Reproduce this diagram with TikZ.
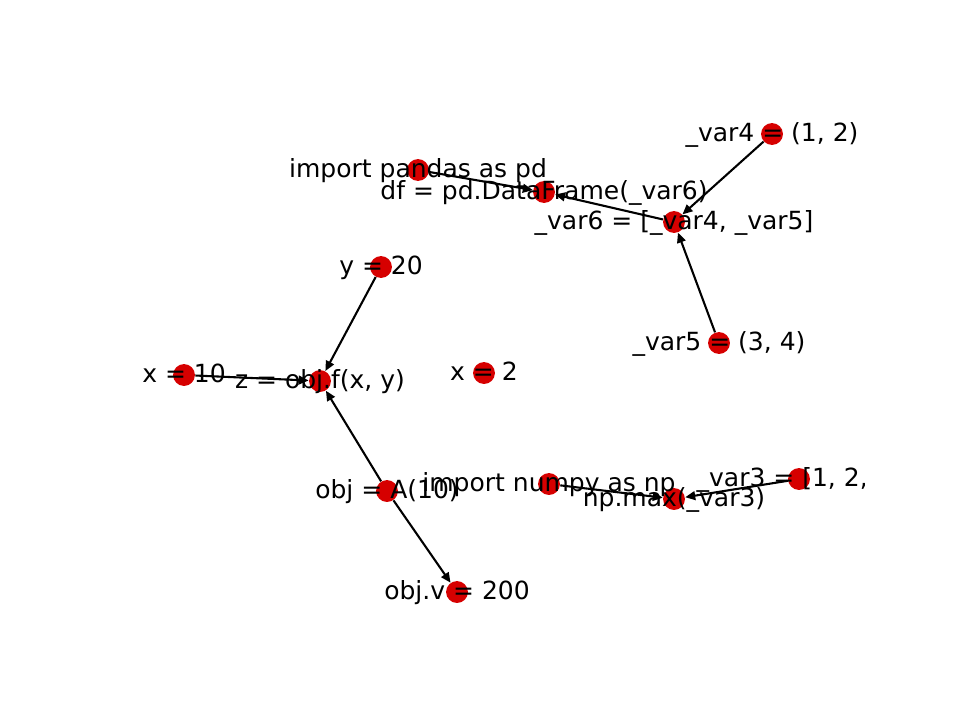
\documentclass[tikz,border=0pt]{standalone}
\usepackage{fontspec}
\setmainfont{DejaVu Sans}
\usetikzlibrary{arrows.meta}
\definecolor{nodered}{RGB}{214,0,0}

\begin{document}
\begin{tikzpicture}[
        x=0.48pt, y=-0.48pt,
        dot/.style={circle, fill=nodered, inner sep=0pt, minimum size=10.5pt},
        lbl/.style={font=\fontsize{12}{14}\selectfont, inner sep=0pt, text height=0.84em, text depth=0.16em},
        arrow/.style={-{Triangle[length=4.8pt, width=4.2pt]}, line width=1pt}
        ]
        \useasboundingbox (0,0) rectangle (960,720);
        \clip (120,86.4) rectangle (864,640.8);

        % nodes
        \node[dot] (var4) at (772,134) {};
        \node[dot] (pandas) at (418,170) {};
        \node[dot] (df) at (544,192) {};
        \node[dot] (var6) at (674,222) {};
        \node[dot] (y) at (381,267) {};
        \node[dot] (var5) at (719,343) {};
        \node[dot] (x10) at (184,375) {};
        \node[dot] (z) at (320,381) {};
        \node[dot] (x2) at (484,373) {};
        \node[dot] (obj) at (387,491) {};
        \node[dot] (numpy) at (549,484) {};
        \node[dot] (npmax) at (674,499) {};
        \node[dot] (var3) at (799,479) {};
        \node[dot] (objv) at (457,592) {};

        % edges
        \draw[arrow] (var4) -- (var6);
        \draw[arrow] (var5) -- (var6);
        \draw[arrow] (var6) -- (df);
        \draw[arrow] (pandas) -- (df);
        \draw[arrow] (y) -- (z);
        \draw[arrow] (x10) -- (z);
        \draw[arrow] (obj) -- (z);
        \draw[arrow] (obj) -- (objv);
        \draw[arrow] (numpy) -- (npmax);
        \draw[arrow] (var3) -- (npmax);

        % labels
        \node[lbl] at (var4) {\_var4 = (1, 2)};
        \node[lbl] at (pandas) {import pandas as pd};
        \node[lbl] at (df) {df = pd.DataFrame(\_var6)};
        \node[lbl] at (var6) {\_var6 = [\_var4, \_var5]};
        \node[lbl] at (y) {y = 20};
        \node[lbl] at (var5) {\_var5 = (3, 4)};
        \node[lbl] at (x10) {x = 10};
        \node[lbl] at (z) {z = obj.f(x, y)};
        \node[lbl] at (x2) {x = 2};
        \node[lbl] at (obj) {obj = A(10)};
        \node[lbl] at (numpy) {import numpy as np};
        \node[lbl] at (npmax) {np.max(\_var3)};
        \node[lbl] at (var3) {\_var3 = [1, 2, 3]};
        \node[lbl] at (objv) {obj.v = 200};
    \end{tikzpicture}
\end{document}
